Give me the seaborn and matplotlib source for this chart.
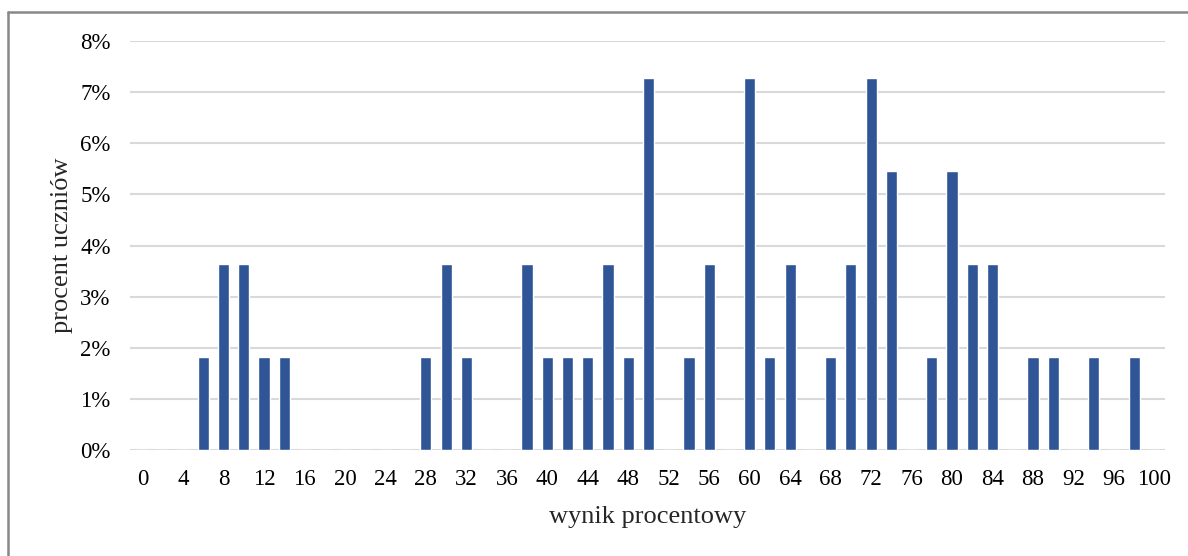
import numpy as np
import pandas as pd
import matplotlib
matplotlib.use('Agg')
import matplotlib.pyplot as plt
import seaborn as sns
from matplotlib.ticker import PercentFormatter

# --------------------------------------------------
# Data: share of students per percentage score
# --------------------------------------------------
scores = list(range(0, 101, 2))
percent = [0, 0, 0, 1.82, 3.64, 3.64, 1.82, 1.82, 0, 0,
           0, 0, 0, 0, 1.82, 3.64, 1.82, 0, 0, 3.64,
           1.82, 1.82, 1.82, 3.64, 1.82, 7.27, 0, 1.82, 3.64, 0,
           7.27, 1.82, 3.64, 0, 1.82, 3.64, 7.27, 5.45, 0, 1.82,
           5.45, 3.64, 3.64, 0, 1.82, 1.82, 0, 1.82, 0, 1.82,
           0]
tick_labels = [str(s) for s in scores[::2]]

df = pd.DataFrame({'score': [str(s) for s in scores], 'percent': percent})

sns.set_style('white')
plt.rcParams['font.family'] = ['Liberation Serif', 'DejaVu Serif']

fig = plt.figure(figsize=(11.88, 5.56), dpi=100)
ax = fig.add_axes([0.1094, 0.1906, 0.8712, 0.7357])

sns.barplot(data=df, x='score', y='percent', color='#2F5597',
            width=0.55, saturation=1, ax=ax, zorder=3)

ax.set_ylim(0, 8)
ax.set_yticks(range(0, 9))
ax.yaxis.set_major_formatter(PercentFormatter(decimals=0))
ax.set_xticks(range(0, len(scores), 2))
ax.set_xticklabels(tick_labels)
ax.set_xlim(-0.62, 50.52)

ax.grid(axis='y', color='#D9D9D9', linewidth=1.5, zorder=0)
ax.grid(axis='x', visible=False)
for side in ['top', 'right', 'left', 'bottom']:
    ax.spines[side].set_visible(False)
ax.tick_params(axis='both', length=0, labelsize=16.5, colors='black')
ax.tick_params(axis='x', pad=14)
ax.tick_params(axis='y', pad=14)

ax.set_xlabel('wynik procentowy', fontsize=19, labelpad=11)
ax.set_ylabel('procent uczniów', fontsize=19, labelpad=5)

# outer chart frame (top and left visible)
fig.add_artist(plt.Line2D([0.0065, 1.0], [0.978, 0.978], color='#888888',
                          linewidth=1.8, transform=fig.transFigure))
fig.add_artist(plt.Line2D([0.0065, 0.0065], [0.0, 0.978], color='#888888',
                          linewidth=1.8, transform=fig.transFigure))

fig.savefig('out.png', dpi=100)
